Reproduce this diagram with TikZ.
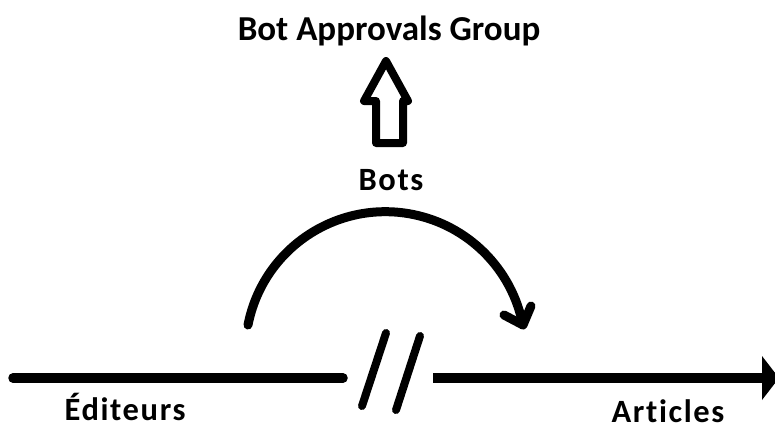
\documentclass[tikz,border=0pt]{standalone}
\usepackage{fontspec}
\setmainfont{Carlito}[Ligatures=NoCommon]
\begin{document}
\begin{tikzpicture}[x=1pt,y=-1pt,
  big label/.style={font=\fontsize{35}{40}\selectfont\bfseries, inner sep=0pt, anchor=base},
  small label/.style={font=\fontsize{32.5}{38}\selectfont\bfseries\addfontfeature{LetterSpace=5}, inner sep=0pt, anchor=base},
  thick stroke/.style={line width=9pt, line cap=round, line join=round},
  hollow arrow/.style={line width=8pt, line join=round}]
\useasboundingbox (0,0) rectangle (775,426);

% labels
\node[big label] (bag) at (389,40) {Bot Approvals Group};
\node[small label] (bots) at (391,190) {Bots};
\node[small label] (editeurs) at (125,420.5) {Éditeurs};
\node[small label] (articles) at (668,422) {Articles};

% main axis, broken in the middle
\coordinate (axisL) at (13,378);
\coordinate (breakL) at (343,378);
\coordinate (breakR) at (433,378);
\coordinate (headBase) at (762,378);
\draw[line width=9.5pt, line cap=round] (axisL) -- (breakL);
\draw[line width=9.5pt] (breakR) -- (headBase);
\fill (762,356) -- (779,378) -- (762,400) -- cycle;

% break marks
\draw[line width=8pt, line cap=round] (386,333) -- (362,406);
\draw[line width=8pt, line cap=round] (420,336) -- (396,410);

% curved arrow over the break
\coordinate (arcStart) at (248,325);
\coordinate (arcEnd) at (523,325);
\draw[thick stroke] (arcStart) arc[start angle=169, end angle=11, radius=140pt];
\draw[thick stroke] (504,315) -- (arcEnd) -- (531,306);

% hollow up arrow towards the group
\draw[hollow arrow] (386,61) -- (408,101) -- (403,101) -- (403,143)
  -- (376,143) -- (376,101) -- (364,101) -- cycle;
\end{tikzpicture}
\end{document}
